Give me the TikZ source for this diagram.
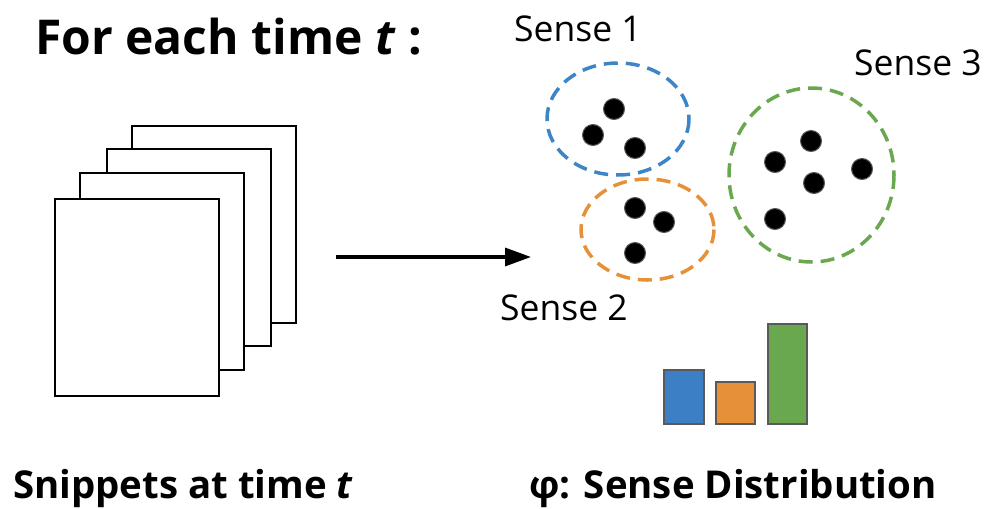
\documentclass[tikz,border=0pt]{standalone}
\usepackage{fontspec}
\setmainfont{Open Sans}
\usetikzlibrary{arrows.meta}
\definecolor{sblue}{HTML}{3D85C6}
\definecolor{sorange}{HTML}{E69138}
\definecolor{sgreen}{HTML}{6AA84F}
\definecolor{bblue}{HTML}{3D7FC4}
\definecolor{bgray}{HTML}{595959}
\tikzset{
  page/.style={draw=black, fill=white, line width=2pt},
  cluster/.style={line width=3.5pt, dash pattern=on 14pt off 8pt},
  dot/.style={circle, fill=black, draw=black!65, line width=1pt, minimum size=21pt, inner sep=0pt},
  bar/.style={draw=bgray, line width=2pt},
  sense/.style={anchor=base west, inner sep=0pt, font=\fontsize{35.5}{38}\selectfont},
  bold/.style={anchor=base west, inner sep=0pt, font=\bfseries\fontsize{38.4}{42}\selectfont},
}
\begin{document}
\begin{tikzpicture}[x=1pt, y=-1pt]
\useasboundingbox (0,0) rectangle (994,509);
% title
\node[anchor=base west, inner sep=0pt, font=\bfseries\fontsize{48}{52}\selectfont] (title) at (35,54) {For each time \textit{t} :};
% pages
\draw[page] (132.3,125.7) rectangle (295.7,322.7);
\draw[page] (106.7,149) rectangle (270.7,346);
\draw[page] (80.3,172.7) rectangle (244,369.7);
\node[page, anchor=north west, minimum width=163.4pt, minimum height=196.7pt, inner sep=0pt] (front) at (54.3,198.3) {};
% arrow
\coordinate (astart) at (336,257);
\coordinate (aend) at (531,257);
\draw[line width=3.3pt, -{Triangle[length=26pt,width=18pt]}] (astart) -- (aend);
% clusters
\draw[cluster, sblue] (618,119) ellipse [x radius=71, y radius=56];
\draw[cluster, sorange] (647.5,229.5) ellipse [x radius=66.5, y radius=50.5];
\draw[cluster, sgreen] (811.5,175) ellipse [x radius=82.5, y radius=87];
% dots
\node[dot] (b1) at (614,109) {};
\node[dot] (b2) at (593,135) {};
\node[dot] (b3) at (635,148) {};
\node[dot] (o1) at (635,208) {};
\node[dot] (o2) at (664,222) {};
\node[dot] (o3) at (635,253) {};
\node[dot] (g1) at (811,141) {};
\node[dot] (g2) at (775,162) {};
\node[dot] (g3) at (862,169) {};
\node[dot] (g4) at (814,183) {};
\node[dot] (g5) at (775,219) {};
% labels
\node[sense] (s1) at (514,41) {Sense 1};
\node[sense] (s3) at (854,75) {Sense 3};
\node[sense] (s2) at (500,320) {Sense 2};
% bars
\draw[bar, fill=bblue] (664,370) rectangle (704,424);
\draw[bar, fill=sorange] (716,382) rectangle (755,424);
\draw[bar, fill=sgreen] (768,324) rectangle (807,424);
% bottom labels
\node[bold] (snip) at (13,498) {Snippets at time \textit{t}};
\node[bold] (phi) at (529,498) {φ: Sense Distribution};
\end{tikzpicture}
\end{document}
